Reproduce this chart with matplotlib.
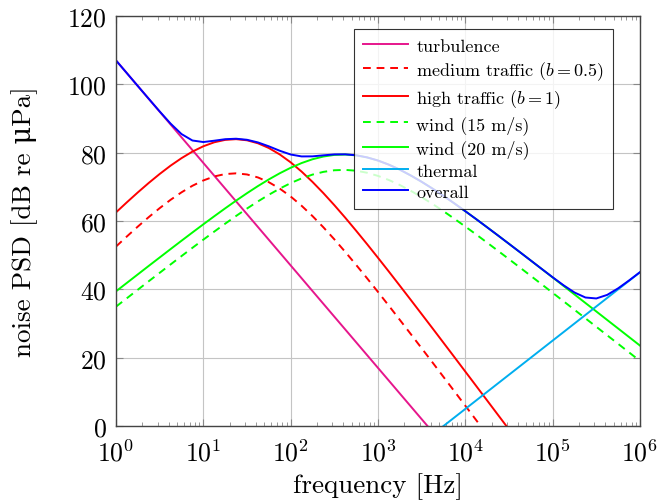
import matplotlib
matplotlib.use('Agg')
import matplotlib.pyplot as plt
from matplotlib.ticker import LogLocator, NullFormatter

plt.rcParams['font.family'] = ['cmr10', 'DejaVu Serif']
plt.rcParams['mathtext.fontset'] = 'cm'
plt.rcParams['axes.formatter.use_mathtext'] = True

# frequency grid (Hz), eighth-decade steps
freq = [1, 1.334, 1.778, 2.371, 3.162, 4.217, 5.623, 7.499,
        10, 13.34, 17.78, 23.71, 31.62, 42.17, 56.23, 74.99,
        100, 133.4, 177.8, 237.1, 316.2, 421.7, 562.3, 749.9,
        1e3, 1334, 1778, 2371, 3162, 4217, 5623, 7499,
        1e4, 1.334e4, 1.778e4, 2.371e4, 3.162e4, 4.217e4, 5.623e4, 7.499e4,
        1e5, 1.334e5, 1.778e5, 2.371e5, 3.162e5, 4.217e5, 5.623e5, 7.499e5, 1e6]

# noise PSD values in dB re uPa
turbulence = [107, 103.25, 99.5, 95.75, 92, 88.25, 84.5, 80.75, 77, 73.25, 69.5, 65.75,
              62, 58.25, 54.5, 50.75, 47, 43.25, 39.5, 35.75, 32, 28.25, 24.5, 20.75,
              17, 13.25, 9.5, 5.75, 2, -1.75, -5.5, -9.25, -13, -16.75, -20.5, -24.25,
              -28, -31.75, -35.5, -39.25, -43, -46.75, -50.5, -54.25, -58, -61.75, -65.5,
              -69.25, -73]
traffic_med = [52.52, 55.49, 58.37, 61.14, 63.76, 66.20, 68.39, 70.31, 71.87, 73.04,
               73.74, 73.95, 73.62, 72.75, 71.36, 69.48, 67.17, 64.46, 61.44, 58.15,
               54.64, 50.96, 47.14, 43.23, 39.23, 35.17, 31.06, 26.92, 22.75, 18.57,
               14.36, 10.15, 5.92, 1.69, -2.54, -6.78, -11.02, -15.27, -19.51, -23.76,
               -28, -32.25, -36.5, -40.75, -45, -49.25, -53.5, -57.75, -62]
traffic_high = [62.52, 65.49, 68.37, 71.14, 73.76, 76.20, 78.39, 80.31, 81.87, 83.04,
                83.74, 83.95, 83.62, 82.75, 81.36, 79.48, 77.17, 74.46, 71.44, 68.15,
                64.64, 60.96, 57.14, 53.23, 49.23, 45.17, 41.06, 36.92, 32.75, 28.57,
                24.36, 20.15, 15.92, 11.69, 7.46, 3.22, -1.02, -5.27, -9.51, -13.76,
                -18, -22.25, -26.5, -30.75, -35, -39.25, -43.5, -47.75, -52]
wind_15 = [34.93, 37.41, 39.89, 42.37, 44.83, 47.29, 49.73, 52.15, 54.54, 56.90,
           59.21, 61.47, 63.65, 65.73, 67.68, 69.48, 71.09, 72.47, 73.58, 74.38,
           74.85, 74.96, 74.72, 74.12, 73.20, 71.99, 70.53, 68.84, 66.98, 64.98,
           62.86, 60.65, 58.37, 56.04, 53.66, 51.26, 48.83, 46.39, 43.93, 41.46,
           38.98, 36.50, 34.01, 31.52, 29.03, 26.53, 24.04, 21.54, 19.04]
wind_20 = [39.42, 41.90, 44.38, 46.86, 49.32, 51.78, 54.22, 56.64, 59.03, 61.39,
           63.70, 65.96, 68.14, 70.22, 72.17, 73.97, 75.58, 76.96, 78.07, 78.87,
           79.34, 79.45, 79.21, 78.61, 77.69, 76.48, 75.02, 73.33, 71.47, 69.47,
           67.35, 65.14, 62.86, 60.53, 58.15, 55.75, 53.32, 50.88, 48.42, 45.95,
           43.47, 40.99, 38.50, 36.01, 33.52, 31.02, 28.53, 26.03, 23.53]
thermal = [-75, -72.5, -70, -67.5, -65, -62.5, -60, -57.5, -55, -52.5, -50, -47.5,
           -45, -42.5, -40, -37.5, -35, -32.5, -30, -27.5, -25, -22.5, -20, -17.5,
           -15, -12.5, -10, -7.5, -5, -2.5, 0, 2.5, 5, 7.5, 10, 12.5, 15, 17.5,
           20, 22.5, 25, 27.5, 30, 32.5, 35, 37.5, 40, 42.5, 45]
overall = [107.00, 103.25, 99.50, 95.77, 92.07, 88.51, 85.45, 83.56, 83.11, 83.50,
           83.94, 84.08, 83.77, 83.00, 81.86, 80.56, 79.46, 78.90, 78.92, 79.22,
           79.49, 79.51, 79.24, 78.62, 77.70, 76.48, 75.02, 73.33, 71.47, 69.47,
           67.35, 65.14, 62.86, 60.53, 58.15, 55.75, 53.32, 50.88, 48.43, 45.97,
           43.53, 41.18, 39.07, 37.61, 37.33, 38.38, 40.30, 42.60, 45.03]

fig = plt.figure(figsize=(6.58, 5.02), dpi=100)
ax = fig.add_axes([116/658, 1-427/502, 524/658, 410/502])

lw = 1.4
dash = (0, (4, 3))
ax.plot(freq, turbulence, color='#e6168c', lw=lw, label='turbulence')
ax.plot(freq, traffic_med, color='#ff0000', lw=lw, ls=dash, label=r'medium traffic ($b=0.5$)')
ax.plot(freq, traffic_high, color='#ff0000', lw=lw, label=r'high traffic ($b=1$)')
ax.plot(freq, wind_15, color='#00ff00', lw=lw, ls=dash, label='wind (15 m/s)')
ax.plot(freq, wind_20, color='#00ff00', lw=lw, label='wind (20 m/s)')
ax.plot(freq, thermal, color='#00aeef', lw=lw, label='thermal')
ax.plot(freq, overall, color='#0000ff', lw=lw, label='overall')

ax.set_xscale('log')
ax.set_xlim(1, 1e6)
ax.set_ylim(0, 120)
ax.set_yticks([0, 20, 40, 60, 80, 100, 120])
ax.xaxis.set_major_locator(LogLocator(base=10, numticks=10))
ax.xaxis.set_minor_locator(LogLocator(base=10, subs=range(2, 10), numticks=100))
ax.xaxis.set_minor_formatter(NullFormatter())

ax.grid(True, which='major', color='#c4c4c4', lw=0.8)
ax.set_axisbelow(True)
ax.tick_params(which='both', direction='in', top=True, right=True, labelsize=18.5, color='#888888')
ax.tick_params(which='major', length=5)
ax.tick_params(which='minor', length=3)
ax.tick_params(axis='x', which='major', pad=9)
ax.tick_params(axis='y', which='major', pad=6.5)
for s in ax.spines.values():
    s.set_color('#444444')
    s.set_linewidth(1.0)

ax.set_xlabel('frequency [Hz]', fontsize=19.5)
ax.xaxis.set_label_coords(0.5, -(473 - 427) / 410)
ax.set_ylabel('noise PSD [dB re \u03bcPa]', fontsize=19.5)
ax.yaxis.set_label_coords(-(116 - 38) / 524, 0.5)

leg = ax.legend(loc='upper left', bbox_to_anchor=(354/658, 1-30/502),
                bbox_transform=fig.transFigure, borderaxespad=0, fontsize=13,
                frameon=True, fancybox=False, edgecolor='black', handlelength=2.5,
                handletextpad=0.45, labelspacing=0.29, borderpad=0.5)
leg.get_frame().set_linewidth(0.8)

fig.savefig('out.png', dpi=100)
